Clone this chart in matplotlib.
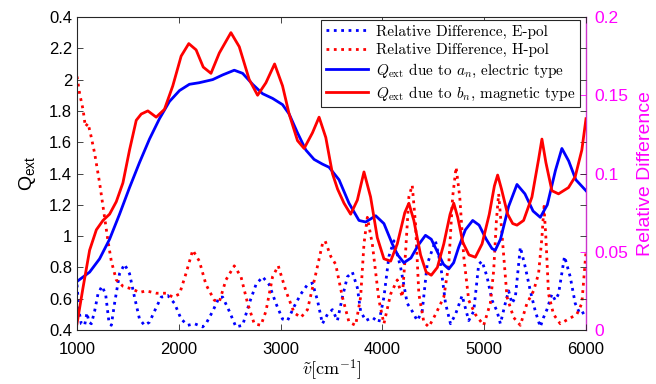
import matplotlib
matplotlib.use('Agg')
import matplotlib.pyplot as plt

matplotlib.rcParams['font.family'] = ['Liberation Sans', 'DejaVu Sans']
matplotlib.rcParams['mathtext.fontset'] = 'cm'

# Q_ext due to a_n (electric type), left axis
wn_a = [1000, 1124, 1222, 1320, 1418, 1516, 1614, 1712, 1810, 1908, 2007, 2104, 2200,
        2333, 2431, 2545, 2627, 2725, 2823, 2921, 3019, 3084, 3166, 3248, 3329, 3411,
        3476, 3574, 3672, 3770, 3836, 3934, 4015, 4097, 4150, 4211, 4280, 4350, 4423,
        4480, 4540, 4600, 4652, 4700, 4750, 4815, 4887, 4950, 5020, 5077, 5109, 5160,
        5240, 5322, 5400, 5480, 5551, 5620, 5700, 5763, 5830, 5900, 6000]
q_a = [0.71, 0.77, 0.855, 0.98, 1.14, 1.31, 1.47, 1.62, 1.75, 1.86, 1.93, 1.97, 1.98,
       2.00, 2.03, 2.06, 2.04, 1.97, 1.91, 1.88, 1.84, 1.78, 1.66, 1.55, 1.49, 1.46,
       1.44, 1.36, 1.21, 1.10, 1.09, 1.13, 1.08, 0.95, 0.88, 0.83, 0.86, 0.94, 1.005,
       0.98, 0.90, 0.82, 0.79, 0.83, 0.93, 1.04, 1.10, 1.07, 0.98, 0.92, 0.91, 0.98,
       1.19, 1.33, 1.27, 1.16, 1.12, 1.20, 1.42, 1.56, 1.48, 1.36, 1.29]

# Q_ext due to b_n (magnetic type), left axis
wn_b = [1000, 1059, 1124, 1190, 1255, 1320, 1386, 1451, 1516, 1582, 1631, 1696, 1778,
        1859, 1941, 2023, 2098, 2170, 2240, 2316, 2398, 2512, 2594, 2692, 2774, 2856,
        2941, 3019, 3084, 3166, 3231, 3313, 3378, 3444, 3509, 3560, 3623, 3688, 3754,
        3819, 3884, 3950, 4015, 4081, 4146, 4220, 4260, 4309, 4375, 4430, 4480, 4540,
        4603, 4665, 4701, 4740, 4790, 4850, 4913, 4979, 5050, 5100, 5132, 5170, 5230,
        5280, 5322, 5387, 5469, 5534, 5567, 5606, 5665, 5730, 5828, 5894, 5959, 6000]
q_b = [0.44, 0.67, 0.91, 1.04, 1.10, 1.14, 1.22, 1.34, 1.55, 1.74, 1.78, 1.80, 1.76,
       1.81, 1.96, 2.15, 2.23, 2.19, 2.08, 2.04, 2.17, 2.30, 2.21, 2.00, 1.90, 1.98,
       2.10, 1.96, 1.78, 1.61, 1.56, 1.66, 1.76, 1.63, 1.40, 1.30, 1.21, 1.14, 1.23,
       1.41, 1.25, 0.99, 0.855, 0.84, 0.95, 1.15, 1.21, 1.10, 0.88, 0.77, 0.75, 0.80,
       0.95, 1.14, 1.21, 1.12, 0.96, 0.88, 0.865, 0.95, 1.14, 1.32, 1.39, 1.30, 1.14,
       1.08, 1.07, 1.10, 1.25, 1.49, 1.62, 1.47, 1.29, 1.27, 1.31, 1.38, 1.55, 1.75]

# relative difference, E-pol, right axis
wn_e = [1000, 1020, 1042, 1075, 1098, 1118, 1141, 1173, 1206, 1245, 1281, 1314, 1337,
        1369, 1418, 1467, 1516, 1565, 1614, 1663, 1712, 1761, 1827, 1892, 1958, 2023,
        2088, 2154, 2235, 2267, 2333, 2398, 2431, 2496, 2561, 2627, 2692, 2758, 2823,
        2888, 2954, 3019, 3068, 3133, 3199, 3264, 3313, 3362, 3411, 3460, 3509, 3558,
        3607, 3656, 3705, 3754, 3786, 3836, 3901, 3966, 4015, 4064, 4113, 4179, 4244,
        4293, 4342, 4391, 4440, 4521, 4571, 4620, 4669, 4718, 4783, 4848, 4897, 4946,
        4979, 5028, 5077, 5126, 5159, 5207, 5240, 5273, 5306, 5355, 5404, 5453, 5502,
        5551, 5583, 5616, 5665, 5698, 5730, 5789, 5845, 5894, 5943, 6000]
rd_e = [0.029, 0.012, 0.004, 0.003, 0.011, 0.005, 0.004, 0.012, 0.023, 0.028, 0.023,
        0.005, 0.003, 0.017, 0.036, 0.042, 0.036, 0.021, 0.007, 0.003, 0.005, 0.012,
        0.021, 0.022, 0.017, 0.007, 0.003, 0.004, 0.002, 0.004, 0.012, 0.021, 0.021,
        0.012, 0.002, 0.003, 0.017, 0.029, 0.034, 0.029, 0.017, 0.007, 0.006, 0.015,
        0.023, 0.029, 0.030, 0.019, 0.004, 0.010, 0.013, 0.006, 0.021, 0.034, 0.037,
        0.027, 0.012, 0.006, 0.008, 0.005, 0.021, 0.047, 0.057, 0.040, 0.017, 0.012,
        0.006, 0.012, 0.042, 0.057, 0.042, 0.017, 0.004, 0.010, 0.022, 0.006, 0.012,
        0.042, 0.044, 0.034, 0.019, 0.012, 0.004, 0.017, 0.025, 0.017, 0.021, 0.053,
        0.040, 0.025, 0.012, 0.002, 0.008, 0.013, 0.023, 0.019, 0.023, 0.047, 0.034,
        0.017, 0.010, 0.012]

# relative difference, H-pol, right axis
wn_h = [1000, 1026, 1059, 1082, 1108, 1131, 1173, 1222, 1271, 1304, 1337, 1386, 1451,
        1549, 1614, 1680, 1778, 1876, 1941, 2007, 2070, 2137, 2202, 2267, 2349, 2398,
        2463, 2545, 2611, 2676, 2741, 2807, 2856, 2921, 2977, 3052, 3133, 3199, 3264,
        3346, 3411, 3437, 3493, 3541, 3607, 3672, 3737, 3786, 3819, 3852, 3901, 3966,
        4015, 4081, 4146, 4195, 4228, 4260, 4293, 4325, 4358, 4407, 4456, 4522, 4603,
        4652, 4690, 4724, 4760, 4799, 4848, 4913, 4995, 5060, 5093, 5120, 5142, 5170,
        5224, 5289, 5355, 5420, 5485, 5534, 5567, 5587, 5606, 5632, 5681, 5747, 5828,
        5910, 5959, 6000]
rd_h = [0.162, 0.151, 0.141, 0.130, 0.132, 0.126, 0.113, 0.094, 0.072, 0.057, 0.044,
        0.032, 0.028, 0.026, 0.024, 0.025, 0.0235, 0.0235, 0.021, 0.023, 0.036, 0.051,
        0.044, 0.029, 0.019, 0.018, 0.032, 0.041, 0.034, 0.017, 0.004, 0.003, 0.012,
        0.034, 0.041, 0.025, 0.011, 0.008, 0.013, 0.036, 0.055, 0.057, 0.047, 0.042,
        0.021, 0.005, 0.003, 0.021, 0.055, 0.072, 0.055, 0.019, 0.004, 0.023, 0.032,
        0.021, 0.050, 0.085, 0.0925, 0.068, 0.023, 0.005, 0.002, 0.010, 0.021,
        0.042, 0.085, 0.104, 0.085, 0.047, 0.019, 0.010, 0.003, 0.017, 0.038, 0.070,
        0.087, 0.065, 0.021, 0.008, 0.003, 0.017, 0.025, 0.036, 0.059, 0.079, 0.059,
        0.023, 0.010, 0.004, 0.007, 0.010, 0.017, 0.050]

left_ticks = [0.4, 0.6, 0.8, 1.0, 1.2, 1.4, 1.6, 1.8, 2.0, 2.2, 2.4]
left_labels = ['0.4', '0.6', '0.8', '1', '1.2', '1.4', '1.6', '1.8', '2', '2.2', '0.4']
right_ticks = [0, 0.05, 0.1, 0.15, 0.2]
right_labels = ['0', '0.05', '0.1', '0.15', '0.2']
x_ticks = [1000, 2000, 3000, 4000, 5000, 6000]

fig = plt.figure(figsize=(6.56, 3.84), dpi=100)
ax1 = fig.add_axes([77/656, 1 - 330/384, 509/656, 313/384])
ax2 = ax1.twinx()

# dotted relative differences on the right axis, drawn first
l1, = ax2.plot(wn_e, rd_e, ':', color='#0000ff', lw=2)
l2, = ax2.plot(wn_h, rd_h, ':', color='#ff0000', lw=2)
ax2.set_ylim(0, 0.2)
ax2.set_yticks(right_ticks)
ax2.set_yticklabels(right_labels)
ax2.tick_params(axis='y', direction='in', colors='#ff00ff', labelsize=12.5, length=4, width=0.6, pad=6)
ax2.set_ylabel('Relative Difference', color='#ff00ff', fontsize=14, labelpad=6)
for s in ['left', 'top', 'bottom']:
    ax2.spines[s].set_visible(False)
ax2.spines['right'].set_color('#cc33cc')
ax2.spines['right'].set_linewidth(1.0)

# solid extinction efficiencies on the left axis
l3, = ax1.plot(wn_a, q_a, '-', color='#0000ff', lw=2)
l4, = ax1.plot(wn_b, q_b, '-', color='#ff0000', lw=2)
ax1.set_zorder(ax2.get_zorder() + 1)
ax1.patch.set_visible(False)
ax1.set_xlim(1000, 6000)
ax1.set_ylim(0.4, 2.4)
ax1.set_xticks(x_ticks)
ax1.set_yticks(left_ticks)
ax1.set_yticklabels(left_labels)
ax1.tick_params(direction='in', top=True, right=True, labelsize=12, length=4, width=0.6,
                colors='#262626', labelcolor='#000000')
ax1.tick_params(axis='x', pad=9)
for s in ['left', 'top', 'bottom']:
    ax1.spines[s].set_color('#262626')
    ax1.spines[s].set_linewidth(0.8)
ax1.spines['right'].set_visible(False)
ax1.set_ylabel(r'$\mathregular{Q_{ext}}$', fontsize=14, labelpad=8)
ax1.set_xlabel(r'$\tilde{v}[\mathrm{cm}^{-1}]$', fontsize=13, labelpad=0)

leg = ax1.legend([l1, l2, l3, l4],
                 ['Relative Difference, E-pol', 'Relative Difference, H-pol',
                  r'$Q_\mathrm{ext}$ due to $a_n$, electric type',
                  r'$Q_\mathrm{ext}$ due to $b_n$, magnetic type'],
                 loc='upper right', bbox_to_anchor=(580/656, 1 - 20/384),
                 bbox_transform=fig.transFigure, borderaxespad=0,
                 prop={'family': 'cmr10', 'size': 11}, handlelength=2.8,
                 labelspacing=0.3, borderpad=0.3, handletextpad=0.5,
                 fancybox=False, framealpha=1, edgecolor='#262626')
leg.get_frame().set_linewidth(0.8)

fig.savefig('out.png', dpi=100)
